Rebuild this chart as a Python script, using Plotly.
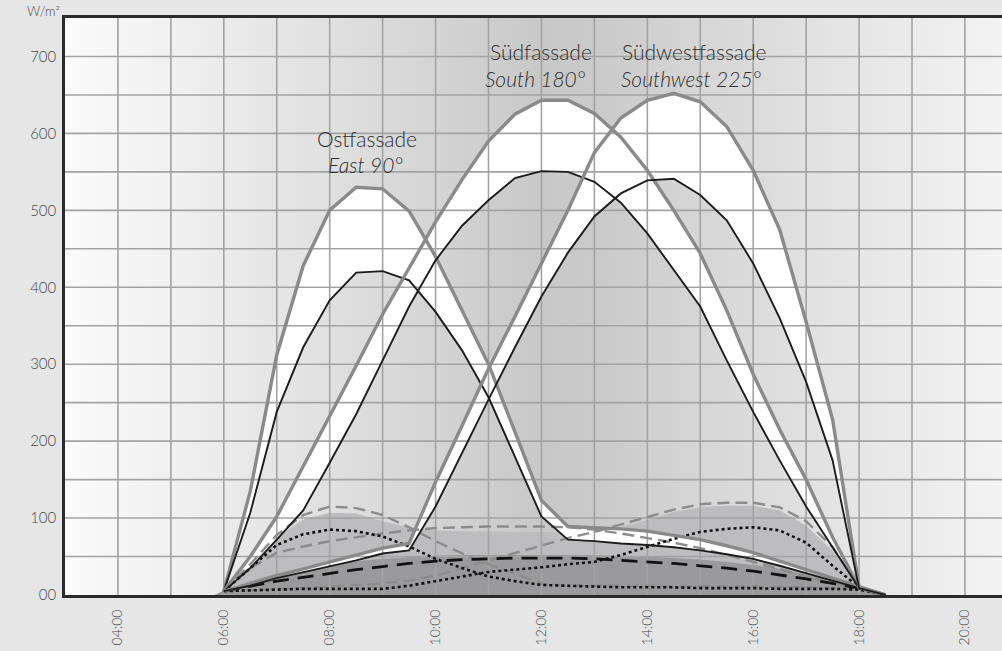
import plotly.graph_objects as go

# Time of day (decimal hours), half-hourly from sunrise to sunset plus the end point
hours = [6.0, 6.5, 7.0, 7.5, 8.0, 8.5, 9.0, 9.5, 10.0, 10.5, 11.0, 11.5, 12.0,
         12.5, 13.0, 13.5, 14.0, 14.5, 15.0, 15.5, 16.0, 16.5, 17.0, 17.5, 18.0, 18.5]

# Irradiance in W/m² per facade (outer grey curve / inner black curve)
east_outer = [5, 135, 312, 428, 500, 530, 528, 499, 440, 370, 300, 212, 123,
              89, 88, 86, 83, 78, 72, 64, 55, 44, 33, 21, 10, 0]
east_inner = [5, 107, 238, 322, 383, 419, 421, 409, 368, 318, 257, 180, 102,
              72, 70, 67, 65, 62, 58, 53, 47, 38, 28, 18, 9, 0]
south_outer = [5, 50, 102, 167, 232, 298, 365, 425, 485, 540, 590, 625, 643,
               643, 626, 595, 552, 500, 444, 370, 287, 215, 150, 75, 10, 0]
south_inner = [5, 35, 72, 110, 172, 235, 305, 375, 435, 480, 513, 542, 551,
               550, 537, 510, 470, 422, 375, 305, 238, 175, 115, 62, 9, 0]
southwest_outer = [5, 14, 25, 34, 43, 52, 61, 67, 147, 220, 294, 362, 430,
                   500, 575, 620, 643, 652, 641, 609, 552, 475, 355, 228, 10, 0]
southwest_inner = [5, 12, 22, 30, 37, 45, 54, 58, 115, 185, 254, 322, 388,
                   445, 492, 522, 539, 541, 520, 487, 431, 360, 277, 175, 9, 0]

# Overcast / diffuse components
east_diffuse = [5, 40, 78, 104, 115, 113, 104, 88, 70, 54, 40, 27, 15,
                12, 12, 12, 12, 11, 11, 11, 11, 10, 10, 9, 8, 0]
south_diffuse = [5, 35, 55, 63, 70, 75, 80, 84, 87, 88, 89, 89, 89,
                 88, 85, 80, 74, 68, 61, 52, 43, 34, 24, 15, 8, 0]
southwest_diffuse = [5, 6, 8, 9, 11, 13, 15, 19, 25, 35, 45, 55, 65,
                     74, 82, 92, 101, 111, 118, 120, 120, 114, 96, 62, 10, 0]
horizontal_diffuse = [5, 12, 18, 23, 28, 33, 37, 41, 44, 46, 47, 48, 48,
                      48, 47, 45, 43, 41, 38, 35, 31, 26, 21, 15, 9, 0]
east_shaded = [5, 35, 65, 79, 85, 83, 76, 63, 47, 35, 24, 18, 13,
               12, 11, 10, 10, 10, 9, 9, 9, 8, 8, 8, 7, 0]
southwest_shaded = [5, 6, 7, 8, 8, 8, 8, 12, 18, 24, 30, 33, 36,
                    40, 43, 52, 63, 73, 82, 86, 88, 84, 68, 38, 10, 0]

# Shaded areas (upper light band, lower dark band)
area_light = [6, 40, 76, 98, 107, 106, 96, 88, 84, 83, 83, 82, 82,
              81, 81, 88, 97, 108, 114, 116, 116, 110, 90, 58, 10, 0]
area_dark = [6, 18, 28, 35, 40, 44, 47, 49, 51, 52, 52, 52, 52,
             52, 52, 51, 50, 48, 46, 43, 39, 34, 27, 19, 10, 0]
area_start = 5.83

# Facade captions: (hour, value, text) for German name and English orientation
captions_de = [(8.70, 594, "Ostfassade"), (11.99, 707, "Südfassade"),
               (14.90, 707, "Südwestfassade")]
captions_en = [(8.67, 560, "East 90°"), (11.88, 672, "South 180°"),
               (14.84, 672, "Southwest 225°")]

# Axis ticks
label_hours = [4, 6, 8, 10, 12, 14, 16, 18, 20]
label_text = ["04:00", "06:00", "08:00", "10:00", "12:00", "14:00", "16:00", "18:00", "20:00"]
grid_hours = list(range(4, 21))
value_ticks = [0, 100, 200, 300, 400, 500, 600, 700]
value_text = ["00", "100", "200", "300", "400", "500", "600", "700"]
grid_levels = list(range(50, 750, 50))

X_MIN, X_MAX = 3.0, 20.7
Y_MIN, Y_MAX = 0, 750

FONT = "Lato"
GREY_LINE = "#8a8a8a"
BLACK_LINE = "#1c1c1c"

fig = go.Figure()

# Plot-area background with horizontal shading
fig.add_trace(go.Scatter(
    x=[X_MIN, X_MAX, X_MAX, X_MIN, X_MIN], y=[Y_MIN, Y_MIN, Y_MAX, Y_MAX, Y_MIN],
    mode="lines", line=dict(width=0), fill="toself",
    fillgradient=dict(type="horizontal", colorscale=[
        [0.0, "#fbfbfb"], [0.17, "#ebebeb"], [0.283, "#e0e0e0"], [0.396, "#d4d4d4"],
        [0.508, "#c8c8c8"], [0.571, "#cacaca"], [0.678, "#d6d6d6"], [0.784, "#e0e0e0"],
        [0.847, "#e6e6e6"], [1.0, "#f3f3f3"]]),
    hoverinfo="skip", showlegend=False))

# Light and dark shaded areas
fill_x = [area_start] + hours
for vals, col in [(area_light, "#bdbdbf"), (area_dark, "#9a9a9c")]:
    fig.add_trace(go.Scatter(
        x=fill_x, y=[0] + vals, mode="lines", line=dict(width=0, color=col),
        fill="tozeroy", fillcolor=col, hoverinfo="skip", showlegend=False))

# White bands between outer and inner curve of each facade
for outer, inner in [(east_outer, east_inner), (south_outer, south_inner),
                     (southwest_outer, southwest_inner)]:
    fig.add_trace(go.Scatter(
        x=hours + hours[::-1], y=outer + inner[::-1], mode="lines",
        line=dict(width=0), fill="toself", fillcolor="#ffffff",
        hoverinfo="skip", showlegend=False))

# Grid lines (drawn over the areas, under the curves)
gx, gy = [], []
for h in grid_hours:
    gx += [h, h, None]
    gy += [Y_MIN, Y_MAX, None]
for v in grid_levels:
    gx += [X_MIN, X_MAX, None]
    gy += [v, v, None]
fig.add_trace(go.Scatter(x=gx, y=gy, mode="lines",
                         line=dict(color="#a3a3a3", width=1.6),
                         hoverinfo="skip", showlegend=False))

# Diffuse / shaded curves
for vals in [east_diffuse, south_diffuse, southwest_diffuse]:
    fig.add_trace(go.Scatter(x=hours, y=vals, mode="lines",
                             line=dict(color="#8c8c8c", width=2.4, dash="12px,6px"),
                             showlegend=False))
fig.add_trace(go.Scatter(x=hours, y=horizontal_diffuse, mode="lines",
                         line=dict(color="#111111", width=2.8, dash="16px,9px"),
                         showlegend=False))
for vals in [east_shaded, southwest_shaded]:
    fig.add_trace(go.Scatter(x=hours, y=vals, mode="lines",
                             line=dict(color="#111111", width=2.6, dash="dot"),
                             showlegend=False))

# Main facade curves
for outer, inner in [(east_outer, east_inner), (south_outer, south_inner),
                     (southwest_outer, southwest_inner)]:
    fig.add_trace(go.Scatter(x=hours, y=outer, mode="lines",
                             line=dict(color=GREY_LINE, width=3.4), showlegend=False))
    fig.add_trace(go.Scatter(x=hours, y=inner, mode="lines",
                             line=dict(color=BLACK_LINE, width=1.9), showlegend=False))

# Facade captions
label_font = dict(family=FONT, size=21, color="#2e2e2e", weight=300)
for hx, vy, txt in captions_de:
    fig.add_annotation(x=hx, y=vy, xref="x", yref="y", text=txt, showarrow=False,
                       font=label_font, xanchor="center", yanchor="middle")
for hx, vy, txt in captions_en:
    fig.add_annotation(x=hx, y=vy, xref="x", yref="y", text="<i>" + txt + "</i>",
                       showarrow=False, font=label_font,
                       xanchor="center", yanchor="middle")

# Unit label above the value axis
fig.add_annotation(x=-3 / 937, y=0.994, xref="paper", yref="paper", text="W/m²",
                   showarrow=False,
                   font=dict(family=FONT, size=13, color="#4a4a4a", weight=300),
                   xanchor="right", yanchor="bottom")

tick_font = dict(family=FONT, color="#474747", weight=300)
fig.update_layout(
    width=1002, height=651,
    margin=dict(l=65, r=0, t=18, b=56),
    paper_bgcolor="#e6e6e7", plot_bgcolor="#e6e6e7",
    font=dict(family=FONT, color="#555555"),
    xaxis=dict(range=[X_MIN, X_MAX], tickvals=label_hours, ticktext=label_text,
               tickangle=-90, tickfont=dict(size=14, **tick_font),
               showgrid=False, zeroline=False, showline=True, linecolor="#2a2a2a",
               linewidth=3, mirror=True, ticks="", ticklabelstandoff=6,
               layer="above traces"),
    yaxis=dict(range=[Y_MIN, Y_MAX], tickvals=value_ticks, ticktext=value_text,
               tickfont=dict(size=15, **tick_font),
               showgrid=False, zeroline=False, showline=True, linecolor="#2a2a2a",
               linewidth=2.5, ticks="", ticklabelstandoff=3, layer="above traces"),
)

fig.write_html("out.html")
